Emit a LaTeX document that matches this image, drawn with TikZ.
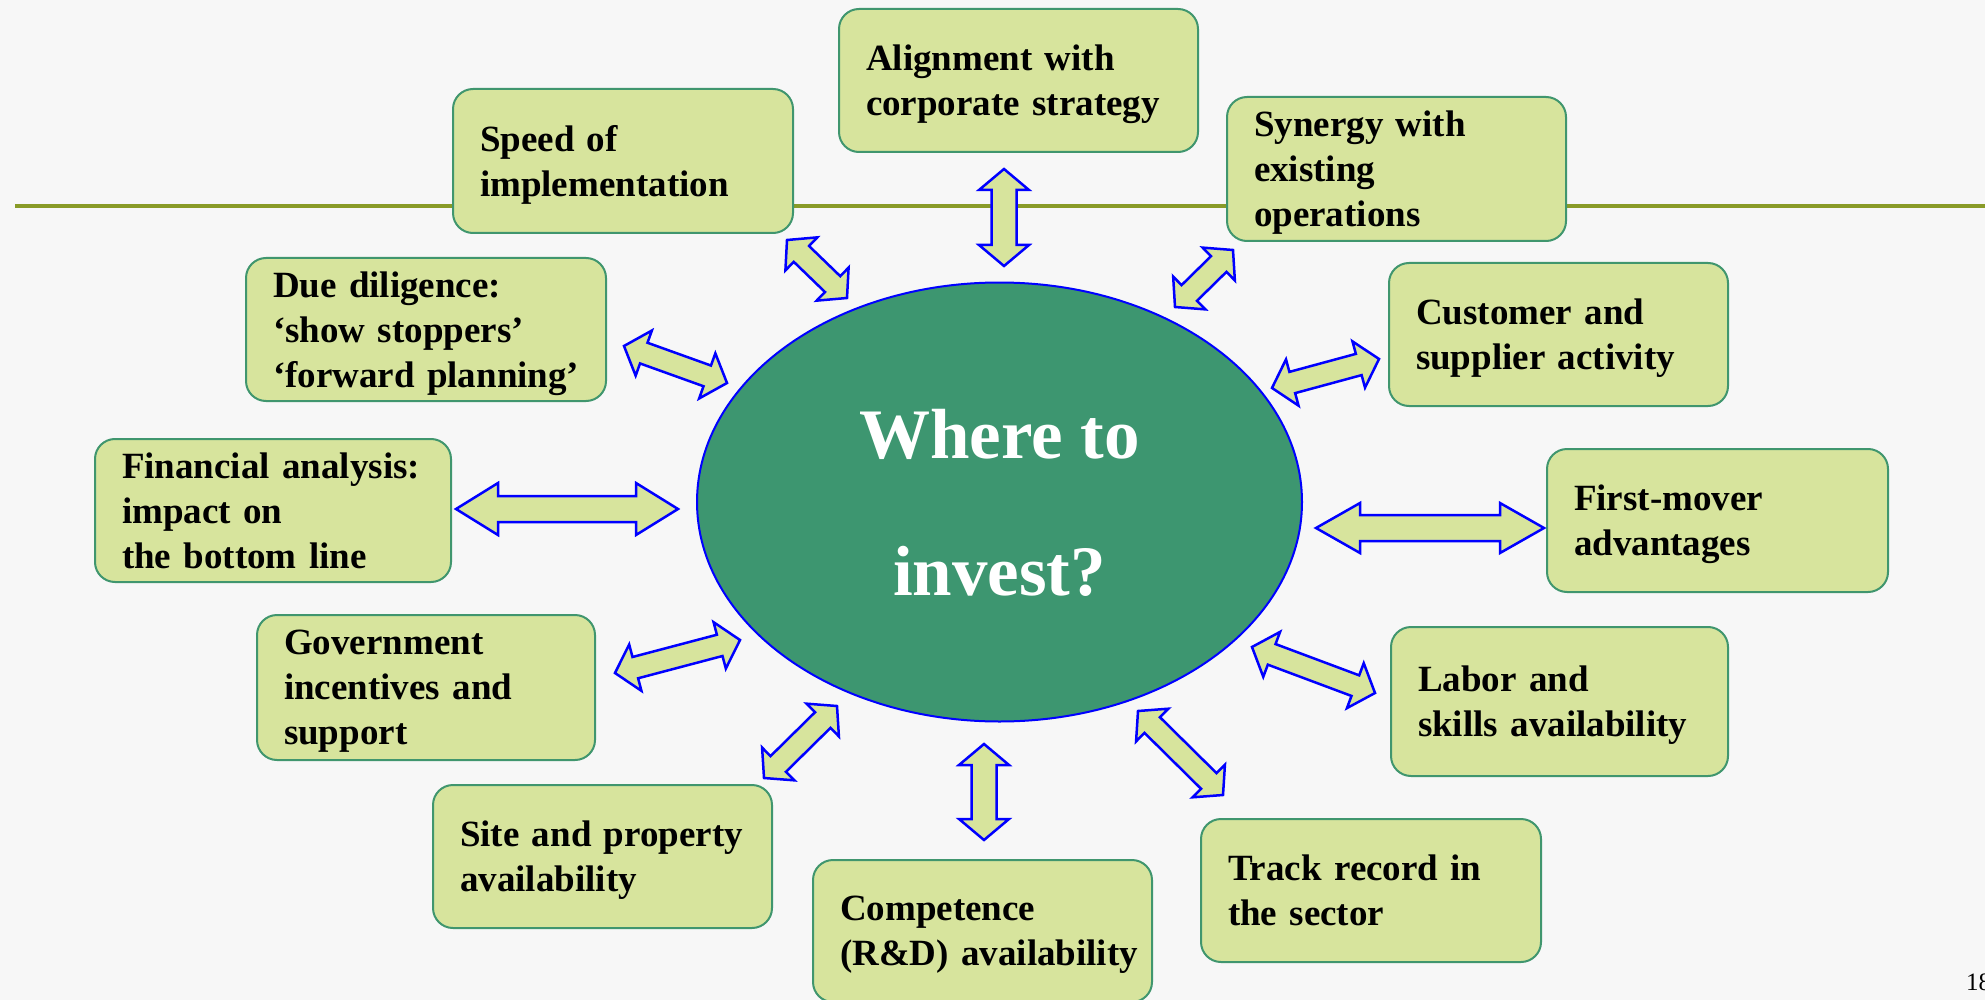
\documentclass[tikz,border=0pt]{standalone}
\usepackage{fontspec}
\setmainfont{Liberation Serif}
\usetikzlibrary{calc,shapes.geometric}

\hyphenpenalty=10000
\exhyphenpenalty=10000

\definecolor{boxfill}{RGB}{215,228,157}
\definecolor{boxedge}{RGB}{64,150,110}
\definecolor{hubfill}{RGB}{61,150,112}
\definecolor{hubedge}{RGB}{0,0,255}
\definecolor{arrowedge}{RGB}{0,0,255}
\definecolor{rulecol}{RGB}{137,155,40}
\definecolor{paper}{RGB}{247,247,247}

% Two-headed block arrow between named tips #1 and #2:
% #3 head length, #4 head half-width, #5 shaft half-width
\newcommand\blockarrow[5]{%
  \coordinate (#1-n) at ($(#1)!#3!(#2)$);
  \coordinate (#2-n) at ($(#2)!#3!(#1)$);
  \draw[barrow] (#1)
    -- ($(#1-n)!#4!90:(#2)$) -- ($(#1-n)!#5!90:(#2)$)
    -- ($(#2-n)!#5!-90:(#1)$) -- ($(#2-n)!#4!-90:(#1)$)
    -- (#2)
    -- ($(#2-n)!#4!90:(#1)$) -- ($(#2-n)!#5!90:(#1)$)
    -- ($(#1-n)!#5!-90:(#2)$) -- ($(#1-n)!#4!-90:(#2)$)
    -- cycle;
}

\begin{document}
\begin{tikzpicture}[x=1pt,y=-1pt,
  box/.style={draw=boxedge, line width=2pt, fill=boxfill, rounded corners=20pt,
    align=left, inner xsep=27pt, inner ysep=0pt,
    font=\fontsize{37}{45}\selectfont\bfseries},
  % depth of the text block below its first baseline, so that the
  % block is centred from cap line to last baseline
  twolines/.style={text depth=45pt},
  threelines/.style={text depth=90pt},
  hub/.style={ellipse, draw=hubedge, line width=2pt, fill=hubfill, inner sep=0pt,
    text=white, align=center, text depth=0pt,
    font=\fontsize{71}{137}\selectfont\bfseries},
  barrow/.style={draw=arrowedge, fill=boxfill, line width=2.5pt, line join=miter},
  rulestyle/.style={draw=rulecol, line width=4pt}]

% page and header rule
\fill[paper] (0,0) rectangle (1985,1000);
\useasboundingbox (0,0) rectangle (1985,1000);
\draw[rulestyle] (15,206) -- (1985,206);

% central ellipse
\node[hub, minimum width=605pt, minimum height=439pt] (hub) at (999.5,502)
  {Where~to\\invest?};

% surrounding factor boxes
\node[box, twolines, minimum height=143pt, text width=305pt] (align) at (1018.5,80.5)
  {Alignment~with\\corporate~strategy};
\node[box, twolines, minimum height=144pt, text width=286pt] (speed) at (623,161)
  {Speed~of\\implementation};
\node[box, threelines, minimum height=144pt, text width=285pt] (synergy) at (1396.5,169)
  {Synergy~with\\existing\\operations};
\node[box, threelines, minimum height=143pt, text width=306pt] (due) at (426,329.5)
  {Due~diligence:\\‘show~stoppers’\\‘forward~planning’};
\node[box, twolines, minimum height=143pt, text width=285pt] (customer) at (1558.5,334.5)
  {Customer~and\\supplier~activity};
\node[box, threelines, minimum height=143pt, text width=302pt] (financial) at (273,510.5)
  {Financial~analysis:\\impact~on\\the~bottom~line};
\node[box, twolines, minimum height=143pt, text width=287pt] (firstmover) at (1717.5,520.5)
  {First-mover\\advantages};
\node[box, threelines, minimum height=145pt, text width=284pt] (government) at (426,687.5)
  {Government\\incentives~and\\support};
\node[box, twolines, minimum height=149pt, text width=283pt] (labor) at (1559.5,701.5)
  {Labor~and\\skills~availability};
\node[box, twolines, minimum height=143pt, text width=285pt] (site) at (602.5,856.5)
  {Site~and~property\\availability};
\node[box, twolines, minimum height=142pt, text width=285pt] (competence) at (982.5,931)
  {Competence\\(R\&D)~availability};
\node[box, twolines, minimum height=143pt, text width=286pt] (track) at (1371,890.5)
  {Track~record~in\\the~sector};

% arrow tips: outer end near the box, inner end near the ellipse
\coordinate (a1o) at (1004,169);  \coordinate (a1i) at (1004,266);
\coordinate (a2o) at (787,240);   \coordinate (a2i) at (847,298);
\coordinate (a3o) at (1233,250);  \coordinate (a3i) at (1175,307);
\coordinate (a4o) at (624,346);   \coordinate (a4i) at (727,383);
\coordinate (a5o) at (1379,359);  \coordinate (a5i) at (1272,388);
\coordinate (a6o) at (456,509);   \coordinate (a6i) at (678,509);
\coordinate (a7o) at (1544,528);  \coordinate (a7i) at (1316,528);
\coordinate (a8o) at (615,673);   \coordinate (a8i) at (740,640);
\coordinate (a9o) at (1375,693);  \coordinate (a9i) at (1252,647);
\coordinate (a10o) at (764,778);  \coordinate (a10i) at (837,706);
\coordinate (a11o) at (984,840);  \coordinate (a11i) at (984,744);
\coordinate (a12o) at (1223,795); \coordinate (a12i) at (1138,711);

\blockarrow{a1o}{a1i}{21pt}{25pt}{12.5pt}
\blockarrow{a2o}{a2i}{20pt}{23pt}{11pt}
\blockarrow{a3o}{a3i}{20pt}{23pt}{11pt}
\blockarrow{a4o}{a4i}{21pt}{24pt}{11pt}
\blockarrow{a5o}{a5i}{21pt}{24pt}{11pt}
\blockarrow{a6o}{a6i}{42pt}{26pt}{13pt}
\blockarrow{a7o}{a7i}{44pt}{25pt}{13pt}
\blockarrow{a8o}{a8i}{21pt}{24pt}{11pt}
\blockarrow{a9o}{a9i}{21pt}{24pt}{11pt}
\blockarrow{a10o}{a10i}{20pt}{23pt}{11pt}
\blockarrow{a11o}{a11i}{21pt}{25pt}{12.5pt}
\blockarrow{a12o}{a12i}{20pt}{23pt}{11pt}

% slide number
\node[anchor=base west, inner sep=0pt, font=\fontsize{25}{25}\selectfont] (pagenum)
  at (1966,990) {18};
\end{tikzpicture}
\end{document}
